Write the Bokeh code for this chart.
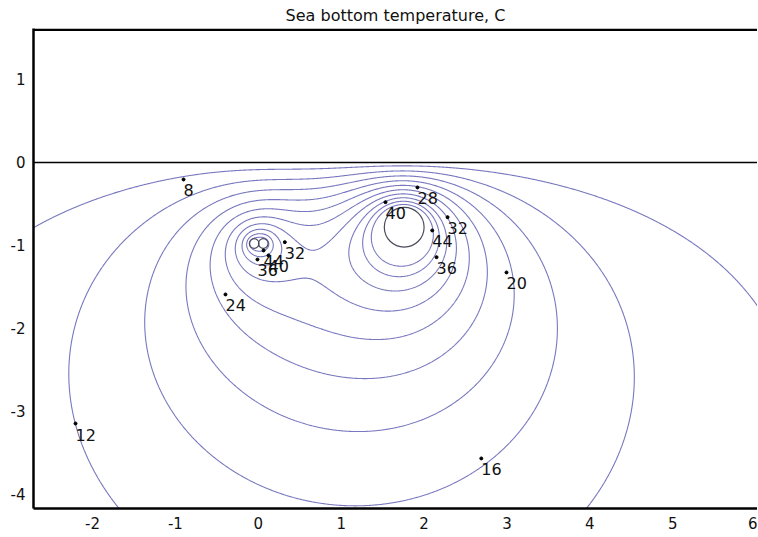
import numpy as np
from bokeh.plotting import figure
from bokeh.models import FixedTicker, Span, Range1d
from bokeh.core.properties import value
from bokeh.embed import file_html
from bokeh.resources import INLINE

title_text = "Sea bottom temperature, C"
x_ticks = [-2, -1, 0, 1, 2, 3, 4, 5, 6]
x_tick_labels = ["-2", "-1", "0", "1", "2", "3", "4", "5", "6"]
y_ticks = [-4, -3, -2, -1, 0, 1]
y_tick_labels = ["-4", "-3", "-2", "-1", "0", "1"]
levels = [8, 12, 16, 20, 24, 28, 32, 36, 40, 44]

# heat sources (pipes): position and strength
src_x = [-0.05, 0.06, 1.76]
src_y = [-0.976, -0.976, -0.78]
src_q = [5.25, 5.25, 23.6]
seabed_T = 5.35     # temperature at the sea bottom line (y = 0)
depth_grad = 0.68   # background change with depth

# pipe outlines
pipe_x = [-0.05, 0.06, 1.76]
pipe_y = [-0.976, -0.976, -0.78]
pipe_r = [0.058, 0.058, 0.24]

# contour labels (dot position on the contour)
lab_text = ["8", "12", "16", "20", "24", "28", "32", "44", "36", "40",
            "32", "44", "40", "36"]
lab_x = [-0.902, -2.205, 2.69, 2.994, -0.396, 1.92, 2.283, 2.098, 2.15, 1.534,
         0.32, 0.063, 0.123, -0.01]
lab_y = [-0.205, -3.145, -3.566, -1.325, -1.59, -0.301, -0.659, -0.819, -1.141, -0.478,
         -0.96, -1.06, -1.12, -1.169]

x0, x1 = -2.712, 6.022
y0, y1 = -4.169, 1.614

# temperature field of line heat sources below a constant-temperature boundary
gx = np.linspace(x0, x1, 900)
gy = np.linspace(y0, 0.0, 440)
X, Y = np.meshgrid(gx, gy)
Z = seabed_T + depth_grad * Y
for sx, sy, q in zip(src_x, src_y, src_q):
    r2 = (X - sx) ** 2 + (Y - sy) ** 2
    ri2 = (X - sx) ** 2 + (Y + sy) ** 2
    Z = Z + 0.5 * q * np.log(ri2 / np.maximum(r2, 1e-8))
Z = np.minimum(Z, 200.0)

p = figure(frame_width=724, frame_height=480, x_range=Range1d(x0, x1), y_range=Range1d(y0, y1),
           output_backend="svg", toolbar_location=None, title=title_text,
           min_border_left=33, min_border_right=0, min_border_top=28, min_border_bottom=0)
p.outline_line_color = None
p.grid.visible = False
p.background_fill_color = "white"
p.border_fill_color = "white"

p.title.text_font = "DejaVu Sans"
p.title.text_font_size = "16px"
p.title.text_font_style = "normal"
p.title.text_color = "#111111"
p.title.align = "center"
p.title.standoff = 7

for ax in (p.xaxis[0], p.yaxis[0]):
    ax.axis_line_color = "black"
    ax.axis_line_width = 2.5
    ax.major_tick_line_color = None
    ax.minor_tick_line_color = None
    ax.major_tick_out = 0
    ax.major_tick_in = 0
    ax.major_label_text_font = "DejaVu Sans"
    ax.major_label_text_font_size = "15px"
    ax.major_label_text_color = "#111111"

p.xaxis[0].ticker = FixedTicker(ticks=x_ticks)
p.xaxis[0].major_label_overrides = {t: s for t, s in zip(x_ticks, x_tick_labels)}
p.xaxis[0].major_label_standoff = 8
p.yaxis[0].ticker = FixedTicker(ticks=y_ticks)
p.yaxis[0].major_label_overrides = {t: s for t, s in zip(y_ticks, y_tick_labels)}
p.yaxis[0].major_label_standoff = 8

# top frame line and sea-bottom line
p.add_layout(Span(location=y1 - 0.015, dimension="width", line_color="black", line_width=2.5))
p.add_layout(Span(location=0, dimension="width", line_color="black", line_width=1.5))

p.contour(gx, gy, Z, levels, line_color="#7878bf", line_width=1.1)

p.circle(pipe_x, pipe_y, radius=pipe_r, fill_color=None, line_color="#4a4a5a", line_width=1.2)

p.scatter(lab_x, lab_y, size=3, color="black")
p.text(lab_x, lab_y, text=lab_text, text_font=value("DejaVu Sans"), text_font_size="16px",
       text_align="left", text_baseline="top", x_offset=0, y_offset=5, text_color="#111111")

open("out.html", "w").write(file_html(p, INLINE))
